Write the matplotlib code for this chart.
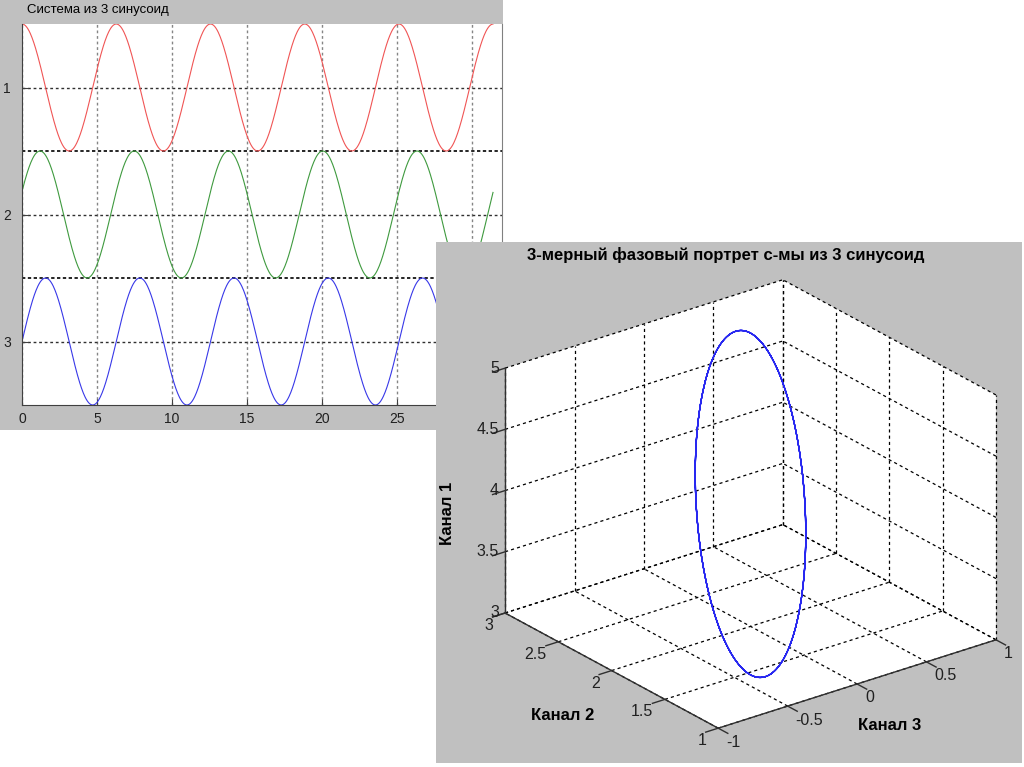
import numpy as np
import matplotlib
matplotlib.use('Agg')
import matplotlib.pyplot as plt
from matplotlib.patches import Rectangle
from mpl_toolkits.mplot3d import proj3d
from mpl_toolkits.mplot3d.art3d import Poly3DCollection


# Sinusoid parameters: value = offset + amp * cos(t + phase)
t_end = 31.4
n_points = 800
strip_labels = ['1', '2', '3']
strip_colors = ['#f05555', '#3f9a3f', '#3838e8']
offsets = [4.0, 2.0, 0.0]
amplitudes = [1.0, 1.0, 1.0]
phases = [0.0, -1.2, -np.pi / 2]

# Ticks
time_ticks = [0, 5, 10, 15, 20, 25, 30]
strip_ticks = [1, 2, 3]
strip_separators = [1.5, 2.5]
ch1_ticks = [3, 3.5, 4, 4.5, 5]
ch2_ticks = [1, 1.5, 2, 2.5, 3]
ch3_ticks = [-1, -0.5, 0, 0.5, 1]

W, H = 1024, 767
gray = '#c0c0c0'
narrow = ['Liberation Sans Narrow', 'Liberation Sans', 'DejaVu Sans']
regular = ['Liberation Sans', 'DejaVu Sans']


def fx(px):
    return px / W


def fy(py):
    return 1 - py / H


t = np.linspace(0, t_end, n_points)
channels = [off + a * np.cos(t + ph) for off, a, ph in zip(offsets, amplitudes, phases)]

fig = plt.figure(figsize=(W / 100, H / 100), dpi=100, facecolor='white')

# ---- left window: stacked sinusoids ----
fig.patches.append(Rectangle((0, fy(430)), fx(503), 430 / H, transform=fig.transFigure,
                             facecolor=gray, edgecolor='none', zorder=-5))

ax1 = fig.add_axes([fx(22), fy(405), fx(502) - fx(22), (405 - 24) / H])
ax1.set_zorder(0)
for k, ch in enumerate(channels):
    norm = (ch - offsets[k]) / amplitudes[k]
    ax1.plot(t, (k + 1) - 0.5 * norm, color=strip_colors[k], lw=0.8)

ax1.set_xlim(0, 32)
ax1.set_ylim(3.5, 0.5)
ax1.set_xticks(time_ticks)
ax1.set_xticklabels([str(v) for v in time_ticks], family=narrow, fontsize=10, color='#202020')
ax1.set_yticks(strip_ticks)
ax1.set_yticklabels(strip_labels, family=narrow, fontsize=10, color='#202020')
ax1.tick_params(direction='in', length=4, color='#404040', pad=5)
ax1.tick_params(axis='y', pad=8)
for v in time_ticks:
    ax1.axvline(v, color='#858585', lw=1.0, ls=(0, (2, 2)), zorder=0.5)
for v in strip_ticks:
    ax1.axhline(v, color='#303030', lw=1.0, ls=(0, (2, 2)), zorder=0.5)
for v in strip_separators:
    ax1.axhline(v, color='black', lw=1.2, ls=(0, (2, 1.5)), zorder=0.5)
ax1.spines['top'].set_visible(False)
ax1.spines['left'].set_color('#404040')
ax1.spines['bottom'].set_color('#404040')
ax1.spines['right'].set_color('#808080')
fig.text(fx(27), fy(10), 'Система из 3 синусоид', family=narrow, fontsize=9.5,
         ha='left', va='center', zorder=0.2)

# ---- right window: 3D phase portrait ----
fig.patches.append(Rectangle((fx(436), fy(763)), fx(1022) - fx(436), (763 - 242) / H,
                             transform=fig.transFigure, facecolor=gray,
                             edgecolor='none', zorder=1))

ax3 = fig.add_axes([0.4586, -0.0233, 0.5342, 0.7132], projection='3d', proj_type='ortho')
ax3.set_zorder(2)
ax3.patch.set_visible(False)
ax3.set_axis_off()
ax3.computed_zorder = False
ax3.view_init(elev=24.5, azim=-127.5)
ax3.set_box_aspect((350, 350, 269))
x0, x1 = ch3_ticks[0], ch3_ticks[-1]
y0, y1 = ch2_ticks[0], ch2_ticks[-1]
z0, z1 = ch1_ticks[0], ch1_ticks[-1]
ax3.set_xlim(x0, x1)
ax3.set_ylim(y0, y1)
ax3.set_zlim(z0, z1)

# white back panes
panes = [
    [(x0, y0, z0), (x1, y0, z0), (x1, y1, z0), (x0, y1, z0)],
    [(x0, y1, z0), (x1, y1, z0), (x1, y1, z1), (x0, y1, z1)],
    [(x1, y0, z0), (x1, y1, z0), (x1, y1, z1), (x1, y0, z1)],
]
ax3.add_collection3d(Poly3DCollection(panes, facecolor='white', edgecolor='none'))

# dashed grid on the panes
grid_kw = dict(color='black', lw=0.9, ls=(0, (2.5, 2.5)))
for xv in ch3_ticks:
    ax3.plot([xv, xv], [y0, y1], [z0, z0], **grid_kw)
    ax3.plot([xv, xv], [y1, y1], [z0, z1], **grid_kw)
for yv in ch2_ticks:
    ax3.plot([x0, x1], [yv, yv], [z0, z0], **grid_kw)
    ax3.plot([x1, x1], [yv, yv], [z0, z1], **grid_kw)
for zv in ch1_ticks:
    ax3.plot([x0, x1], [y1, y1], [zv, zv], **grid_kw)
    ax3.plot([x1, x1], [y0, y1], [zv, zv], **grid_kw)

# solid axis edges
edge_kw = dict(color='#303030', lw=1.0)
ax3.plot([x0, x0], [y1, y1], [z0, z1], **edge_kw)
ax3.plot([x0, x0], [y0, y1], [z0, z0], **edge_kw)
ax3.plot([x0, x1], [y0, y0], [z0, z0], **edge_kw)

M = ax3.get_proj()


def label3d(x, y, z, s, dx, dy, ha):
    px, py, _ = proj3d.proj_transform(x, y, z, M)
    ax3.annotate(s, xy=(px, py), xycoords='data', xytext=(dx, dy),
                 textcoords='offset pixels', ha=ha, va='center',
                 family=regular, fontsize=11.5, color='#202020')


tick = 0.045
for zv in ch1_ticks:
    ax3.plot([x0, x0 - tick * (x1 - x0)], [y1, y1], [zv, zv], **edge_kw)
    label3d(x0, y1, zv, f'{zv:g}', -6, 0, 'right')
for yv in ch2_ticks:
    ax3.plot([x0, x0 - tick * (x1 - x0)], [yv, yv], [z0, z0], **edge_kw)
    label3d(x0, yv, z0, f'{yv:g}', -12, -12.5, 'right')
for xv in ch3_ticks:
    ax3.plot([xv, xv], [y0, y0 - tick * (y1 - y0)], [z0, z0], **edge_kw)
    label3d(xv, y0, z0, f'{xv:g}', 8, -14, 'left')

ax3.plot(channels[2], channels[1], channels[0], color='#2828f0', lw=0.9, zorder=3)

fig.text(fx(726), fy(255), '3-мерный фазовый портрет с-мы из 3 синусоид', family=regular,
         fontsize=12, fontweight='bold', ha='center', va='center', zorder=3)
fig.text(fx(448), fy(513), 'Канал 1', family=regular, fontsize=12, fontweight='bold',
         rotation=90, ha='center', va='center', zorder=3)
fig.text(fx(563), fy(715), 'Канал 2', family=regular, fontsize=12, fontweight='bold',
         ha='center', va='center', zorder=3)
fig.text(fx(890), fy(725), 'Канал 3', family=regular, fontsize=12, fontweight='bold',
         ha='center', va='center', zorder=3)

fig.savefig('out.png', dpi=100, facecolor='white')
